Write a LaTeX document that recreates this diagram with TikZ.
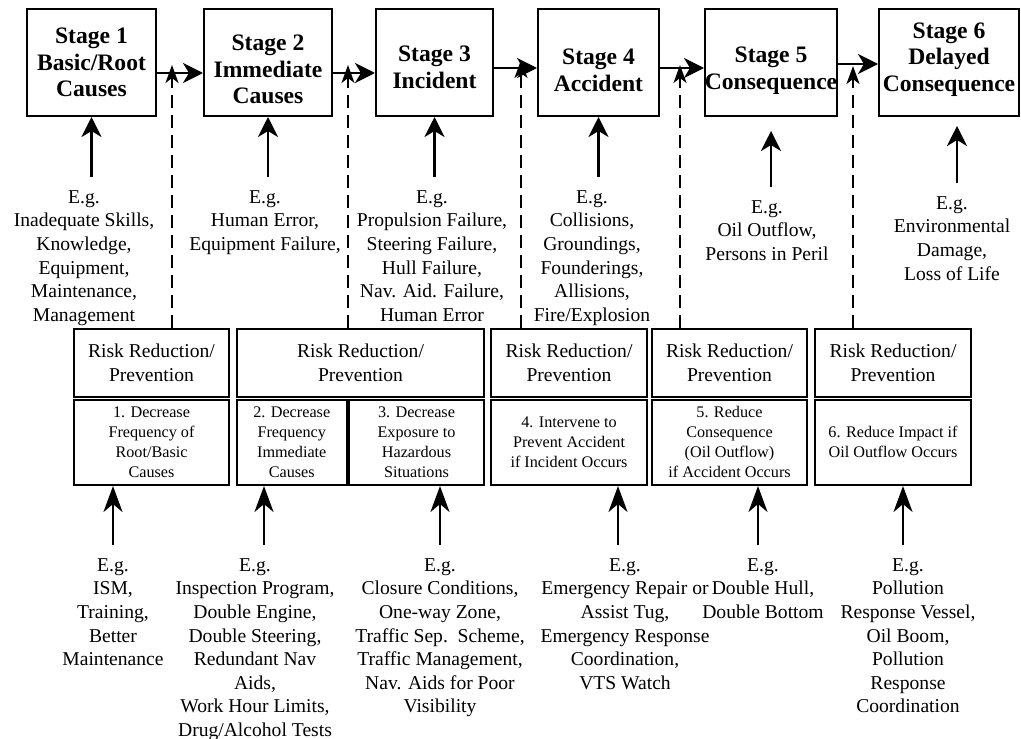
\documentclass[tikz,border=0pt]{standalone}
\usepackage{fontspec}
\setmainfont{Liberation Serif}
\usetikzlibrary{arrows.meta}
\tikzstyle{line} = [draw, line width=1.4pt, -{Stealth[length=10pt,width=10pt,inset=3pt]}]
\tikzstyle{longline} = [draw, line width=1.4pt, -{Stealth[length=13pt,width=9.5pt,inset=4pt]}]
\tikzstyle{dashline} = [draw, line width=1.1pt, dash pattern=on 6.5pt off 3.5pt, -{Stealth[length=9pt,width=6.5pt,inset=2.5pt]}]
\tikzstyle{stage} = [draw, line width=1pt, rectangle, inner sep=0pt, minimum height=53.5pt]
\tikzstyle{stagetext} = [align=center, inner sep=0pt, font=\fontsize{11.8}{13.3}\selectfont\bfseries]
\tikzstyle{riskbox} = [draw, line width=1pt, rectangle, align=center, inner sep=0pt, minimum height=34pt, font=\fontsize{9.8}{11.8}\selectfont]
\tikzstyle{measure} = [draw, line width=1pt, rectangle, align=center, inner sep=0pt, minimum height=42.75pt, font=\fontsize{8.1}{10}\selectfont]
\tikzstyle{example} = [align=center, inner sep=6.5pt, anchor=north, font=\fontsize{9.8}{11.8}\selectfont]

\begin{document}
\begin{tikzpicture}[x=0.5pt, y=-0.5pt]
        \useasboundingbox (0,0) rectangle (1021,738);
        % stages
        \node[stage, minimum width=64.5pt, label={[stagetext]center:Stage 1\\Basic/Root\\Causes}] (s1) at (91.5,62.5) {};
        \node[stage, minimum width=64pt, label={[stagetext, yshift=-3.5pt]center:Stage 2\\Immediate\\Causes}] (s2) at (268,62.5) {};
        \node[stage, minimum width=58.5pt, label={[stagetext, yshift=-2.5pt]center:Stage 3\\Incident}] (s3) at (434.5,62.5) {};
        \node[stage, minimum width=60.5pt, label={[stagetext, yshift=-4pt]center:Stage 4\\Accident}] (s4) at (598.5,62.5) {};
        \node[stage, minimum width=66pt, label={[stagetext, yshift=-4pt]center:Stage 5\\Consequence}] (s5) at (771,62.5) {};
        \node[stage, minimum width=70pt, label={[stagetext, yshift=1.5pt]center:Stage 6\\Delayed\\Consequence}] (s6) at (949,62.5) {};
        \path[line] ([yshift=-5.25pt]s1.east) -- ([yshift=-5.25pt]s2.west);
        \path[line] ([yshift=-5.25pt]s2.east) -- ([yshift=-5.25pt]s3.west);
        \path[line] ([yshift=-2.75pt]s3.east) -- ([yshift=-2.75pt]s4.west);
        \path[line] ([yshift=-2.75pt]s4.east) -- ([yshift=-2.75pt]s5.west);
        \path[line] ([yshift=-0.75pt]s5.east) -- ([yshift=-0.75pt]s6.west);

        % examples of each stage
        \node[example] (e1) at (84,177) {E.g.\\Inadequate Skills,\\Knowledge,\\Equipment,\\Maintenance,\\Management};
        \node[example] (e2) at (265,177) {E.g.\\Human Error,\\Equipment Failure,};
        \node[example] (e3) at (432,177) {E.g.\\Propulsion Failure,\\Steering Failure,\\Hull Failure,\\Nav. Aid. Failure,\\Human Error};
        \node[example] (e4) at (592,177) {E.g.\\Collisions,\\Groundings,\\Founderings,\\Allisions,\\Fire/Explosion};
        \node[example] (e5) at (767,187) {E.g.\\Oil Outflow,\\Persons in Peril};
        \node[example] (e6) at (952,183) {E.g.\\Environmental\\Damage,\\Loss of Life};
        \path[line] (s1.south |- e1.north) -- (s1.south);
        \path[line] (s2.south |- e2.north) -- (s2.south);
        \path[line] (s3.south |- e3.north) -- (s3.south);
        \path[line] (s4.south |- e4.north) -- (s4.south);
        \path[line, shorten >=7pt] (s5.south |- e5.north) -- (s5.south);
        \path[line, shorten >=4.5pt] ([xshift=4pt]s6.south |- e6.north) -- ([xshift=4pt]s6.south);

        % risk reduction
        \node[riskbox, minimum width=77.5pt] (rr1) at (151.5,363) {Risk Reduction/\\Prevention};
        \node[riskbox, minimum width=123.5pt] (rr2) at (360.5,363) {Risk Reduction/\\Prevention};
        \node[riskbox, minimum width=78pt] (rr3) at (569,363) {Risk Reduction/\\Prevention};
        \node[riskbox, minimum width=77.5pt] (rr4) at (729.5,363) {Risk Reduction/\\Prevention};
        \node[riskbox, minimum width=78pt] (rr5) at (893,363) {Risk Reduction/\\Prevention};
        \node[measure, minimum width=77.5pt] (m1) at (151.5,442.25) {1. Decrease\\Frequency of\\Root/Basic\\Causes};
        \node[measure, minimum width=54.75pt] (m2) at (291.75,442.25) {2. Decrease\\Frequency\\Immediate\\Causes};
        \node[measure, minimum width=67.5pt] (m3) at (416.5,442.25) {3. Decrease\\Exposure to\\Hazardous\\Situations};
        \node[measure, minimum width=78pt] (m4) at (569,442.25) {4. Intervene to\\Prevent Accident\\if Incident Occurs};
        \node[measure, minimum width=77.5pt] (m5) at (729.5,442.25) {5. Reduce\\Consequence\\(Oil Outflow)\\if Accident Occurs};
        \node[measure, minimum width=78pt] (m6) at (893,442.25) {6. Reduce Impact if\\Oil Outflow Occurs};

        \coordinate (t1) at (172,65);
        \coordinate (t2) at (348,65);
        \coordinate (t3) at (521,60);
        \coordinate (t4) at (680,65);
        \coordinate (t5) at (853,66);
        \path[dashline] (rr1.north -| t1) -- (t1);
        \path[dashline] (rr2.north -| t2) -- (t2);
        \path[dashline] (rr3.north -| t3) -- (t3);
        \path[dashline] (rr4.north -| t4) -- (t4);
        \path[dashline] (rr5.north -| t5) -- (t5);

        % examples of each measure
        \node[example] (b1) at (113,545) {E.g.\\ISM,\\Training,\\Better\\Maintenance};
        \node[example] (b2) at (255,545) {E.g.\\Inspection Program,\\Double Engine,\\Double Steering,\\Redundant Nav\\Aids,\\Work Hour Limits,\\Drug/Alcohol Tests};
        \node[example] (b3) at (440,545) {E.g.\\Closure Conditions,\\One-way Zone,\\Traffic Sep.\ \ Scheme,\\Traffic Management,\\Nav. Aids for Poor\\Visibility};
        \node[example] (b4) at (625,545) {E.g.\\Emergency Repair or\\Assist Tug,\\Emergency Response\\Coordination,\\VTS Watch};
        \node[example] (b5) at (763,545) {E.g.\\Double Hull,\\Double Bottom};
        \node[example] (b6) at (908,545) {E.g.\\Pollution\\Response Vessel,\\Oil Boom,\\Pollution\\Response\\Coordination};
        \path[longline] (b1.north) -- (b1.north |- m1.south);
        \path[longline] ([xshift=4.5pt]b2.north) -- ([xshift=4.5pt]b2.north |- m2.south);
        \path[longline] (b3.north) -- (b3.north |- m3.south);
        \path[longline] ([xshift=-3.5pt]b4.north) -- ([xshift=-3.5pt]b4.north |- m4.south);
        \path[longline] ([xshift=-2.5pt]b5.north) -- ([xshift=-2.5pt]b5.north |- m5.south);
        \path[longline] ([xshift=-2.5pt]b6.north) -- ([xshift=-2.5pt]b6.north |- m6.south);
    \end{tikzpicture}
\end{document}
